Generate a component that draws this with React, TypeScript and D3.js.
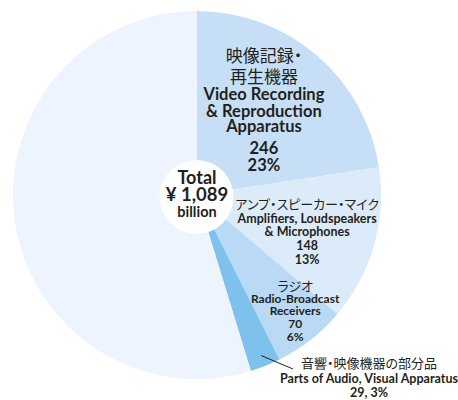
import React from "react";
import * as d3 from "d3";

const categories = [
  "Video Recording & Reproduction Apparatus",
  "Amplifiers, Loudspeakers & Microphones",
  "Radio-Broadcast Receivers",
  "Parts of Audio, Visual Apparatus",
  "Other",
];
const values = [246, 148, 70, 29, 596];
const percents = ["23%", "13%", "6%", "3%", ""];
const sliceColors = ["#c6dff6", "#dcebfa", "#b9d9f4", "#7dc1ec", "#edf4fd"];
const totalLabel = ["Total", "¥ 1,089", "billion"];

type Line = { t: string; jp?: boolean; size: number; gap: number };
const labelLines: Line[][] = [
  [
    { t: "映像記録・", jp: true, size: 17, gap: 0 },
    { t: "再生機器", jp: true, size: 17, gap: 21 },
    { t: "Video Recording", size: 16.5, gap: 17 },
    { t: "& Reproduction", size: 16.5, gap: 17 },
    { t: "Apparatus", size: 16.5, gap: 15 },
    { t: String(values[0]), size: 16.5, gap: 22 },
    { t: percents[0], size: 16.5, gap: 17 },
  ],
  [
    { t: "アンプ・スピーカー・マイク", jp: true, size: 13, gap: 0 },
    { t: "Amplifiers, Loudspeakers", size: 12.5, gap: 14 },
    { t: "& Microphones", size: 12.5, gap: 13 },
    { t: String(values[1]), size: 12.5, gap: 14 },
    { t: percents[1], size: 12.5, gap: 14 },
  ],
  [
    { t: "ラジオ", jp: true, size: 13, gap: 0 },
    { t: "Radio-Broadcast", size: 12, gap: 12 },
    { t: "Receivers", size: 12, gap: 12 },
    { t: String(values[2]), size: 12, gap: 13 },
    { t: percents[2], size: 12, gap: 13 },
  ],
  [
    { t: "音響・映像機器の部分品", jp: true, size: 13, gap: 0 },
    { t: "Parts of Audio, Visual Apparatus", size: 12.5, gap: 15 },
    { t: `${values[3]}, ${percents[3]}`, size: 12.5, gap: 14 },
  ],
];
// label anchor: point at radius r along slice mid-angle, shifted by dx/dy to first baseline
const labelPolar = [
  { r: 105, dx: -1.5, dy: -53 },
  { r: 115, dx: -0.5, dy: -17 },
  { r: 150, dx: 5.5, dy: -22 },
];

const W = 458;
const H = 400;
const cx = 197;
const cy = 195;
const R = 184;

const EN = "Lato, 'Open Sans', sans-serif";
const JP = "'Noto Sans CJK JP', sans-serif";

export default function App() {
  const pie = d3
    .pie<number>()
    .sort(null)
    .value((d) => d);
  const arcs = pie(values);
  const arc = d3.arc<d3.PieArcDatum<number>>().innerRadius(0).outerRadius(R);

  const polar = (angle: number, r: number) => [cx + Math.sin(angle) * r, cy - Math.cos(angle) * r];

  const renderBlock = (lines: Line[], x: number, y0: number, key: string) => {
    let y = y0;
    return (
      <g key={key}>
        {lines.map((ln, i) => {
          y += ln.gap;
          return (
            <text
              key={i}
              x={x}
              y={y}
              textAnchor="middle"
              fontFamily={ln.jp ? JP : EN}
              fontWeight={ln.jp ? 400 : 700}
              fontSize={ln.size}
              fill="#231f20"
              style={ln.jp ? { fontFeatureSettings: '"palt"' } : undefined}
            >
              {ln.t}
            </text>
          );
        })}
      </g>
    );
  };

  const anchors = labelPolar.map((p, i) => {
    const a = arcs[i];
    const mid = (a.startAngle + a.endAngle) / 2;
    const [x, y] = polar(mid, p.r);
    return { x: x + p.dx, y: y + p.dy };
  });

  const pa = arcs[3];
  const pmid = (pa.startAngle + pa.endAngle) / 2;
  const p0 = polar(pmid, R * 0.94);
  const p1 = [293, 369];

  return (
    <svg
      width={W}
      height={H}
      style={{ position: "absolute", left: 0, top: 0, background: "#fff" }}
    >
      <g transform={`translate(${cx},${cy})`}>
        {arcs.map((a, i) => (
          <path key={categories[i]} d={arc(a) || ""} fill={sliceColors[i]} />
        ))}
        <circle cx={-0.5} cy={2} r={37} fill="#ffffff" />
      </g>
      <text x={cx} y={184} textAnchor="middle" fontFamily={EN} fontWeight={700} fontSize={18} fill="#231f20">
        {totalLabel[0]}
      </text>
      <text x={cx} y={201} textAnchor="middle" fontFamily={EN} fontWeight={700} fontSize={18.5} fill="#231f20">
        {totalLabel[1]}
      </text>
      <text x={cx} y={217} textAnchor="middle" fontFamily={EN} fontWeight={700} fontSize={14.5} fill="#231f20">
        {totalLabel[2]}
      </text>
      {renderBlock(labelLines[0], anchors[0].x, anchors[0].y, "l0")}
      {renderBlock(labelLines[1], anchors[1].x, anchors[1].y, "l1")}
      {renderBlock(labelLines[2], anchors[2].x, anchors[2].y, "l2")}
      <line x1={p0[0]} y1={p0[1]} x2={p1[0]} y2={p1[1]} stroke="#231f20" strokeWidth={1} />
      {renderBlock(labelLines[3], 369, 368, "l3")}
    </svg>
  );
}
